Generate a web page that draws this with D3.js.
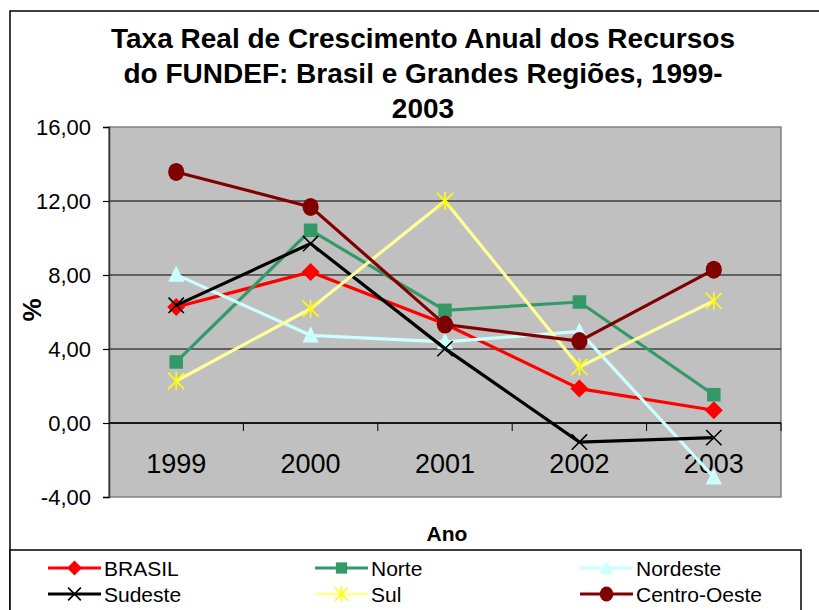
<!DOCTYPE html>
<html>
<head>
<meta charset="utf-8">
<script src="https://cdn.jsdelivr.net/npm/d3@7"></script>
<style>
  body { margin: 0; background: #fff; }
  svg { display: block; font-family: "Liberation Sans", Arial, sans-serif; }
</style>
</head>
<body>
<div id="chart"></div>
<script>
// data
const years = ["1999", "2000", "2001", "2002", "2003"];
const seriesNames = ["BRASIL", "Norte", "Nordeste", "Sudeste", "Sul", "Centro-Oeste"];
const brasil = [6.27, 8.16, 5.35, 1.86, 0.69];
const norte = [3.30, 10.42, 6.09, 6.54, 1.53];
const nordeste = [8.02, 4.74, 4.38, 4.95, -2.93];
const sudeste = [6.36, 9.70, 4.02, -1.03, -0.79];
const sul = [2.27, 6.18, 12.00, 3.03, 6.60];
const centroOeste = [13.57, 11.68, 5.32, 4.43, 8.29];
const yTicks = [-4, 0, 4, 8, 12, 16];

const series = [
  { name: seriesNames[0], values: brasil, line: "#ff0000", fill: "#ff0000", shape: "diamond" },
  { name: seriesNames[1], values: norte, line: "#339966", fill: "#339966", shape: "square" },
  { name: seriesNames[2], values: nordeste, line: "#ccffff", fill: "#ccffff", shape: "triangle" },
  { name: seriesNames[3], values: sudeste, line: "#000000", fill: "#000000", shape: "x" },
  { name: seriesNames[4], values: sul, line: "#ffff99", fill: "#ffff00", shape: "star" },
  { name: seriesNames[5], values: centroOeste, line: "#800000", fill: "#800000", shape: "circle" }
];

const W = 819, H = 610;
const plot = { left: 109, right: 781, top: 127, bottom: 497 };

const svg = d3.select("#chart").append("svg")
  .attr("width", W)
  .attr("height", H);

// outer chart frame
svg.append("rect")
  .attr("x", 10).attr("y", 11)
  .attr("width", 830).attr("height", 640)
  .attr("fill", "#fff")
  .attr("stroke", "#000")
  .attr("stroke-width", 1.5);

const x = d3.scaleBand()
  .domain(years)
  .range([plot.left, plot.right])
  .padding(0);

const y = d3.scaleLinear()
  .domain([-4, 16])
  .range([plot.bottom, plot.top]);

// plot area
svg.append("rect")
  .attr("x", plot.left).attr("y", plot.top)
  .attr("width", plot.right - plot.left)
  .attr("height", plot.bottom - plot.top)
  .attr("fill", "#c0c0c0")
  .attr("stroke", "#808080")
  .attr("stroke-width", 1.5);

// horizontal gridlines
svg.selectAll("line.grid")
  .data(yTicks.filter(d => d > -4 && d < 16))
  .enter().append("line")
  .attr("class", "grid")
  .attr("x1", plot.left).attr("x2", plot.right)
  .attr("y1", d => y(d)).attr("y2", d => y(d))
  .style("stroke", "#000")
  .style("stroke-width", 1.2);

// y axis (comma decimals, plain hyphen for minus)
const yAxis = d3.axisLeft(y)
  .tickValues(yTicks)
  .tickSize(6)
  .tickPadding(12)
  .tickFormat(d => d3.format(".2f")(d).replace(".", ",").replace("\u2212", "-"));

const gy = svg.append("g")
  .attr("transform", "translate(" + plot.left + ",0)")
  .call(yAxis);
gy.select(".domain").style("stroke", "#333").style("stroke-width", 1.5);
gy.selectAll(".tick line").style("stroke", "#000").style("stroke-width", 1.2);
gy.selectAll(".tick text")
  .style("font-family", "Liberation Sans, Arial, sans-serif")
  .style("font-size", "22px")
  .style("fill", "#000");

// category axis on the zero line, ticks between categories
const gx = svg.append("g").attr("class", "x axis");
gx.append("line")
  .attr("x1", plot.left).attr("x2", plot.right)
  .attr("y1", y(0)).attr("y2", y(0))
  .style("stroke", "#000").style("stroke-width", 1.5);
gx.selectAll("line.cat")
  .data(years.slice(1).concat(["end"]))
  .enter().append("line")
  .attr("class", "cat")
  .attr("x1", (d, i) => x(years[0]) + (i + 1) * x.bandwidth())
  .attr("x2", (d, i) => x(years[0]) + (i + 1) * x.bandwidth())
  .attr("y1", y(0)).attr("y2", y(0) + 8)
  .style("stroke", "#000").style("stroke-width", 1);
gx.selectAll("text")
  .data(years)
  .enter().append("text")
  .attr("x", d => x(d) + x.bandwidth() / 2)
  .attr("y", y(0) + 50)
  .attr("text-anchor", "middle")
  .style("font-size", "27px")
  .text(d => d);

// marker drawing
function marker(g, shape, fill, s) {
  if (shape === "diamond") {
    g.append("path").attr("d", `M0,${-s}L${s},0L0,${s}L${-s},0Z`).attr("fill", fill);
  } else if (shape === "square") {
    g.append("rect").attr("x", -s * 0.75).attr("y", -s * 0.75)
      .attr("width", s * 1.5).attr("height", s * 1.5).attr("fill", fill);
  } else if (shape === "triangle") {
    g.append("path").attr("d", `M0,${-s}L${s * 0.9},${s * 0.8}L${-s * 0.9},${s * 0.8}Z`).attr("fill", fill);
  } else if (shape === "x") {
    const r = s * 0.85;
    g.append("path").attr("d", `M${-r},${-r}L${r},${r}M${-r},${r}L${r},${-r}`)
      .attr("stroke", fill).attr("stroke-width", 1.6);
  } else if (shape === "star") {
    const r = s * 0.9;
    g.append("path").attr("d", `M${-r},${-r}L${r},${r}M${-r},${r}L${r},${-r}M0,${-r * 1.1}L0,${r * 1.1}`)
      .attr("stroke", fill).attr("stroke-width", 1.6);
  } else if (shape === "circle") {
    g.append("ellipse").attr("rx", s * 0.9).attr("ry", s).attr("fill", fill);
  }
}

const line = d3.line()
  .x((d, i) => x(years[i]) + x.bandwidth() / 2)
  .y(d => y(d));

series.forEach(s => {
  const g = svg.append("g");
  g.append("path")
    .datum(s.values)
    .attr("d", line)
    .attr("fill", "none")
    .attr("stroke", s.line)
    .attr("stroke-width", 3.2);
  s.values.forEach((v, i) => {
    const m = g.append("g")
      .attr("transform", "translate(" + (x(years[i]) + x.bandwidth() / 2) + "," + y(v) + ")");
    marker(m, s.shape, s.fill, 9);
  });
});

// axis titles
svg.append("text")
  .attr("x", 447).attr("y", 541)
  .attr("text-anchor", "middle")
  .style("font-size", "21px").style("font-weight", "bold")
  .text("Ano");

svg.append("text")
  .attr("transform", "translate(41,310) rotate(-90)")
  .attr("text-anchor", "middle")
  .style("font-size", "26px").style("font-weight", "bold")
  .text("%");

// title
const titleLines = ["Taxa Real de Crescimento Anual dos Recursos",
  "do FUNDEF: Brasil e Grandes Regiões, 1999-", "2003"];
svg.selectAll("text.title")
  .data(titleLines)
  .enter().append("text")
  .attr("class", "title")
  .attr("x", 423)
  .attr("y", (d, i) => 48 + i * 35)
  .attr("text-anchor", "middle")
  .style("font-size", "28px").style("font-weight", "bold")
  .text(d => d);

// legend box
svg.append("rect")
  .attr("x", 10).attr("y", 550)
  .attr("width", 791).attr("height", 80)
  .attr("fill", "#fff")
  .attr("stroke", "#000")
  .attr("stroke-width", 1.5);

const legendCols = [48, 315, 580];
const legendRows = [568, 594];
series.forEach((s, i) => {
  const lx = legendCols[i % 3], ly = legendRows[Math.floor(i / 3)];
  const g = svg.append("g").attr("transform", "translate(" + lx + "," + ly + ")");
  g.append("line")
    .attr("x1", 0).attr("x2", 53)
    .attr("stroke", s.line).attr("stroke-width", 3.2);
  const m = g.append("g").attr("transform", "translate(26.5,0)");
  marker(m, s.shape, s.fill, 7.5);
  g.append("text")
    .attr("x", 56).attr("y", 7.5)
    .style("font-size", "21px")
    .text(s.name);
});
</script>
</body>
</html>
